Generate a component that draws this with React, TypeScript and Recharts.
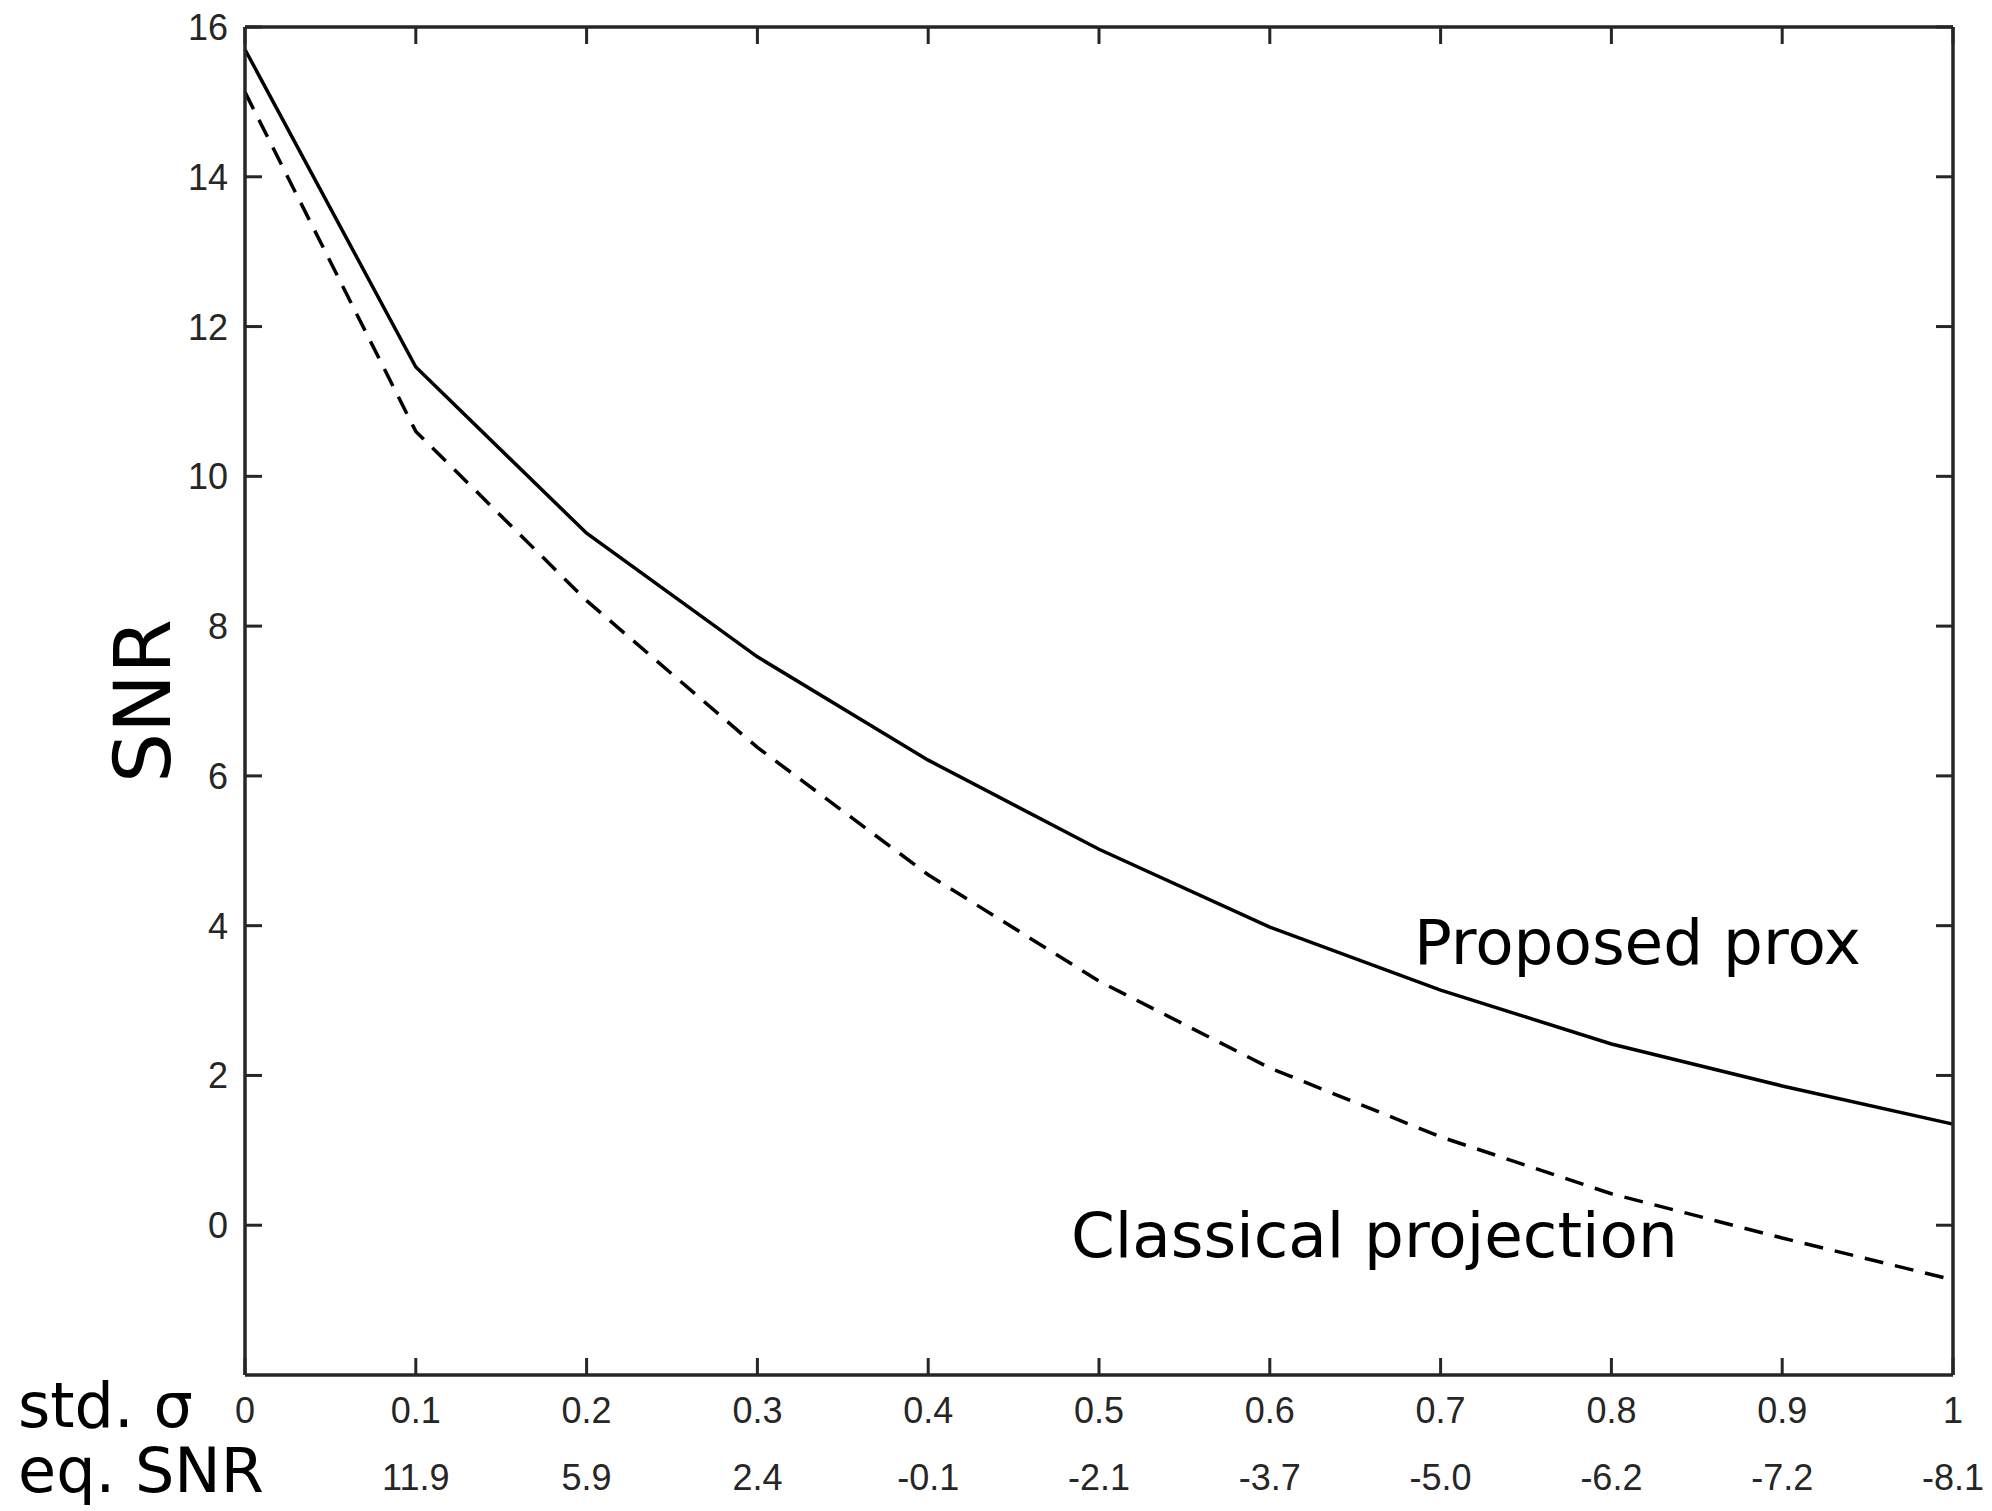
import { Line, LineChart, XAxis, YAxis } from "recharts"

// std. sigma of the noise, and the matching SNR (dB) shown under each tick
const sigma = [0, 0.1, 0.2, 0.3, 0.4, 0.5, 0.6, 0.7, 0.8, 0.9, 1]
const eqSnr = ["", "11.9", "5.9", "2.4", "-0.1", "-2.1", "-3.7", "-5.0", "-6.2", "-7.2", "-8.1"]

// output SNR for each method
const proposedProx = [15.7, 11.46, 9.24, 7.59, 6.21, 5.02, 3.98, 3.14, 2.42, 1.86, 1.35]
const classicalProjection = [15.13, 10.6, 8.34, 6.38, 4.68, 3.26, 2.1, 1.18, 0.42, -0.17, -0.73]

const yTicks = [0, 2, 4, 6, 8, 10, 12, 14, 16]

const rows = sigma.map((s, i) => ({
  sigma: s,
  proposed: proposedProx[i],
  classical: classicalProjection[i],
}))

const AXIS = "#262626"
const TICK_LEN = 17
const TICK_FONT = "'Liberation Sans', Arial, Helvetica, sans-serif"
const TEXT_FONT = "'DejaVu Sans', sans-serif"

function BottomTick({ x, y, payload }: any) {
  const i = sigma.indexOf(payload.value)
  return (
    <g>
      <line x1={x} y1={y} x2={x} y2={y - TICK_LEN} stroke={AXIS} strokeWidth={3} />
      <text x={x} y={y + 48} textAnchor="middle" fontSize={36} fontFamily={TICK_FONT} fill={AXIS}>
        {payload.value}
      </text>
      <text x={x} y={y + 115} textAnchor="middle" fontSize={36} fontFamily={TICK_FONT} fill={AXIS}>
        {i >= 0 ? eqSnr[i] : ""}
      </text>
    </g>
  )
}

function TopTick({ x, y }: any) {
  return <line x1={x} y1={y} x2={x} y2={y + TICK_LEN} stroke={AXIS} strokeWidth={3} />
}

function LeftTick({ x, y, payload }: any) {
  return (
    <g>
      <line x1={x} y1={y} x2={x + TICK_LEN} y2={y} stroke={AXIS} strokeWidth={3} />
      <text x={x - 17} y={y} dy="0.36em" textAnchor="end" fontSize={36} fontFamily={TICK_FONT} fill={AXIS}>
        {payload.value}
      </text>
    </g>
  )
}

function RightTick({ x, y }: any) {
  return <line x1={x} y1={y} x2={x - TICK_LEN} y2={y} stroke={AXIS} strokeWidth={3} />
}

export default function App() {
  const axisLine = { stroke: AXIS, strokeWidth: 3.5 }
  return (
    <div style={{ position: "absolute", left: 0, top: 0, width: 1992, height: 1511, background: "#fff" }}>
      <LineChart width={1992} height={1511} data={rows} margin={{ top: 26, right: 38, left: 185, bottom: 6 }}>
        <XAxis
          dataKey="sigma"
          type="number"
          domain={[0, 1]}
          ticks={sigma}
          interval={0}
          height={130}
          tickSize={0}
          tickMargin={0}
          tickLine={false}
          axisLine={axisLine}
          tick={<BottomTick />}
        />
        <XAxis
          xAxisId="top"
          orientation="top"
          dataKey="sigma"
          type="number"
          domain={[0, 1]}
          ticks={sigma}
          interval={0}
          height={1}
          tickSize={0}
          tickMargin={0}
          tickLine={false}
          axisLine={axisLine}
          tick={<TopTick />}
        />
        <YAxis
          type="number"
          domain={[-2, 16]}
          ticks={yTicks}
          interval={0}
          allowDataOverflow
          width={60}
          tickSize={0}
          tickMargin={0}
          tickLine={false}
          axisLine={axisLine}
          tick={<LeftTick />}
        />
        <YAxis
          yAxisId="right"
          orientation="right"
          type="number"
          domain={[-2, 16]}
          ticks={yTicks}
          interval={0}
          allowDataOverflow
          width={1}
          tickSize={0}
          tickMargin={0}
          tickLine={false}
          axisLine={axisLine}
          tick={<RightTick />}
        />
        <Line
          type="linear"
          dataKey="proposed"
          name="Proposed prox"
          stroke="#000"
          strokeWidth={3.5}
          dot={false}
          isAnimationActive={false}
        />
        <Line
          type="linear"
          dataKey="classical"
          name="Classical projection"
          stroke="#000"
          strokeWidth={3.5}
          strokeDasharray="19 12"
          dot={false}
          isAnimationActive={false}
        />
      </LineChart>
      <svg
        width={1992}
        height={1511}
        style={{ position: "absolute", left: 0, top: 0, pointerEvents: "none" }}
        fontFamily={TEXT_FONT}
      >
        <text x={142} y={701} transform="rotate(-90 142 701)" textAnchor="middle" dy="0.36em" fontSize={79} fill="#000">
          SNR
        </text>
        <text x={1414} y={964} fontSize={62.8} fill="#000">
          Proposed prox
        </text>
        <text x={1071} y={1257} fontSize={62.8} fill="#000">
          Classical projection
        </text>
        <text x={18} y={1427} fontSize={62} fill="#000">
          std. σ
        </text>
        <text x={18} y={1492} fontSize={62} fill="#000">
          eq. SNR
        </text>
      </svg>
    </div>
  )
}
